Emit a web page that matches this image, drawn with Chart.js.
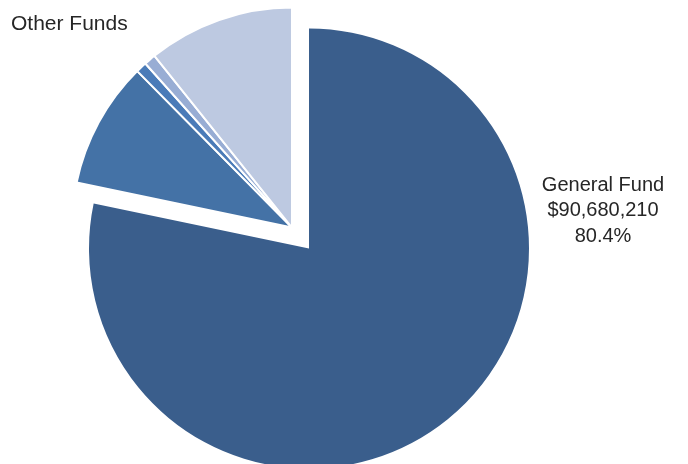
<!DOCTYPE html>
<html>
<head>
<meta charset="utf-8">
<script src="https://cdn.jsdelivr.net/npm/chart.js@4/dist/chart.umd.min.js"></script>
<style>
  html, body { margin: 0; padding: 0; background: #fff; }
  #wrap { width: 688px; height: 464px; }
</style>
</head>
<body>
<div id="wrap"><canvas id="fund-chart" width="688" height="464"></canvas></div>
<script>
// data
const categories = ['General Fund', 'Other Fund A', 'Other Fund B', 'Other Fund C', 'Other Fund D'];
const fundValues = [90680210, 10780000, 930000, 1000000, 12450000];
const sliceColors = ['#3a5e8c', '#4472a6', '#4a7bb8', '#98add4', '#bdc9e1'];
const generalLabel = ['General Fund', '$90,680,210', '80.4%'];
const otherLabel = 'Other Funds';

const FAMILY = '"Liberation Sans", Arial, sans-serif';

// pull all the "other" slices out together, along the bisector of the group
const explodeGroup = {
    id: 'explodeGroup',
    afterDatasetsUpdate(chart) {
        const arcs = chart.getDatasetMeta(0).data;
        const first = arcs[1], last = arcs[arcs.length - 1];
        const mid = (first.startAngle + last.endAngle) / 2;
        const dist = 27;
        for (let i = 1; i < arcs.length; i++) {
            arcs[i].x += Math.cos(mid) * dist;
            arcs[i].y += Math.sin(mid) * dist;
        }
    }
};

const fundLabels = {
    id: 'fundLabels',
    afterDatasetsDraw(chart) {
        const ctx = chart.ctx;
        ctx.save();
        ctx.fillStyle = '#262626';
        ctx.textBaseline = 'alphabetic';
        ctx.textAlign = 'left';
        ctx.font = '21px ' + FAMILY;
        ctx.fillText(otherLabel, 11, 30);
        ctx.textAlign = 'center';
        ctx.font = '20px ' + FAMILY;
        generalLabel.forEach((line, i) => {
            ctx.fillText(line, 603, 190.5 + i * 25.7);
        });
        ctx.restore();
    }
};

const ctx = document.getElementById('fund-chart').getContext('2d');
new Chart(ctx, {
    type: 'pie',
    data: {
        labels: categories,
        datasets: [{
            data: fundValues,
            backgroundColor: sliceColors,
            borderColor: '#ffffff',
            borderWidth: [0, 2, 2, 2, 2],
            clip: false
        }]
    },
    options: {
        responsive: false,
        animation: false,
        events: [],
        radius: 220,
        layout: { padding: { left: 0, right: 70, top: 33, bottom: 0 } },
        plugins: {
            legend: { display: false },
            tooltip: { enabled: false }
        }
    },
    plugins: [explodeGroup, fundLabels]
});
</script>
</body>
</html>
